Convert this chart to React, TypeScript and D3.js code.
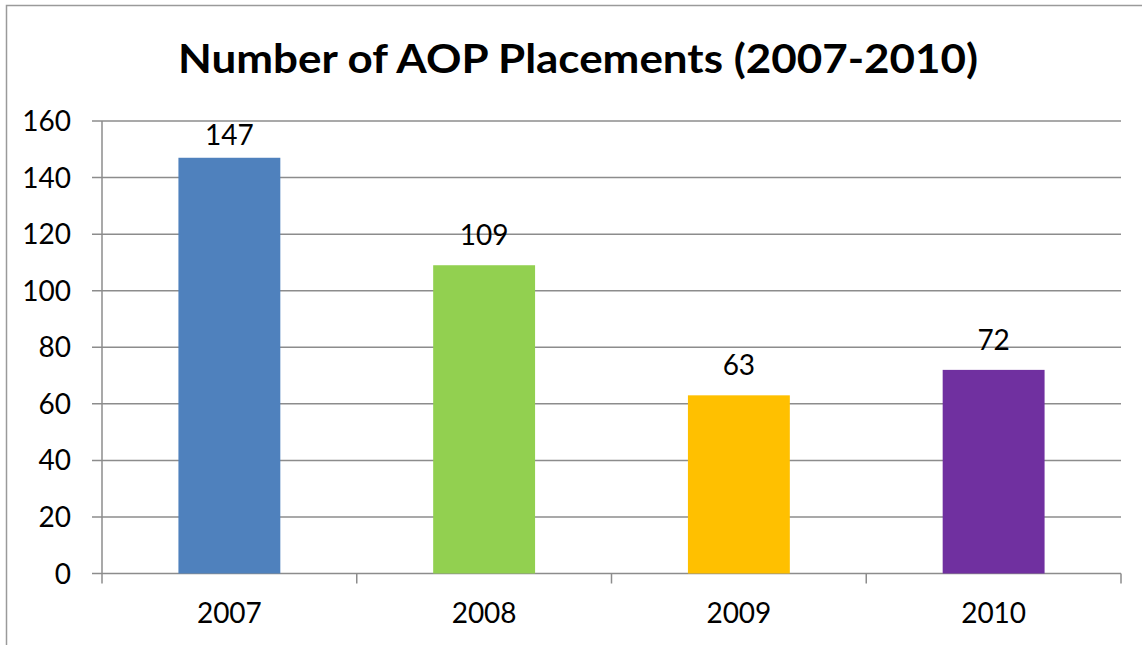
import * as d3 from 'd3';
import { useEffect, useRef } from 'react';

// chart data
const years = ['2007', '2008', '2009', '2010'];
const placements = [147, 109, 63, 72];
const barColors = ['#4F81BD', '#92D050', '#FFC000', '#7030A0'];
const yTicks = [0, 20, 40, 60, 80, 100, 120, 140, 160];
const chartTitle = 'Number of AOP Placements (2007-2010)';

export default function App() {
  const svgCur = useRef<SVGSVGElement | null>(null);

  useEffect(() => {
    if (!svgCur.current) return;
    const width = 1142;
    const height = 645;
    const margin = { top: 121, right: 21, bottom: 71, left: 102 };
    const font = 'Lato, "Open Sans", sans-serif';
    const fontSize = 28;

    const svg = d3.select(svgCur.current).attr('width', width).attr('height', height);
    svg.selectAll('*').remove();

    svg.append('rect').attr('width', width).attr('height', height).attr('fill', '#fff');

    // outer chart border
    svg.append('rect')
      .attr('x', 6.5).attr('y', 5.5)
      .attr('width', width + 20).attr('height', height + 20)
      .attr('fill', 'none').attr('stroke', '#9a9a9a').attr('stroke-width', 1.5);

    const x = d3.scaleBand().domain(years).range([margin.left, width - margin.right]).paddingInner(0).paddingOuter(0);
    const y = d3.scaleLinear().domain([0, 160]).range([height - margin.bottom - 0.5, margin.top]);

    // gridlines + y ticks
    svg.append('g').selectAll('line')
      .data(yTicks)
      .join('line')
      .attr('x1', margin.left - 10)
      .attr('x2', width - margin.right)
      .attr('y1', (d) => y(d))
      .attr('y2', (d) => y(d))
      .attr('stroke', '#8c8c8c')
      .attr('stroke-width', 1.5);

    svg.append('g').selectAll('text')
      .data(yTicks)
      .join('text')
      .attr('x', margin.left - 31)
      .attr('y', (d) => y(d) + 10)
      .attr('text-anchor', 'end')
      .attr('font-family', font)
      .attr('font-size', fontSize)
      .attr('fill', '#000')
      .text((d) => d);

    // y axis line
    svg.append('line')
      .attr('x1', margin.left).attr('x2', margin.left)
      .attr('y1', y(160)).attr('y2', y(0) + 10)
      .attr('stroke', '#8c8c8c').attr('stroke-width', 1.5);

    // x category ticks
    const bounds = years.map((d) => (x(d) as number) + x.bandwidth());
    svg.append('g').selectAll('line')
      .data(bounds)
      .join('line')
      .attr('x1', (d) => d).attr('x2', (d) => d)
      .attr('y1', y(0)).attr('y2', y(0) + 10)
      .attr('stroke', '#8c8c8c').attr('stroke-width', 1.5);

    // bars
    const barW = x.bandwidth() * 0.4;
    svg.append('g').selectAll('rect')
      .data(placements)
      .join('rect')
      .attr('x', (d, i) => (x(years[i]) as number) + (x.bandwidth() - barW) / 2)
      .attr('y', (d) => y(d))
      .attr('width', barW)
      .attr('height', (d) => y(0) - y(d))
      .attr('fill', (d, i) => barColors[i]);

    // value labels (kept inside the plot area at the top)
    svg.append('g').selectAll('text')
      .data(placements)
      .join('text')
      .attr('x', (d, i) => (x(years[i]) as number) + x.bandwidth() / 2)
      .attr('y', (d) => Math.max(y(d) - 20, margin.top + 24))
      .attr('text-anchor', 'middle')
      .attr('font-family', font)
      .attr('font-size', fontSize)
      .text((d) => d);

    // x labels
    svg.append('g').selectAll('text')
      .data(years)
      .join('text')
      .attr('x', (d) => (x(d) as number) + x.bandwidth() / 2)
      .attr('y', y(0) + 49)
      .attr('text-anchor', 'middle')
      .attr('font-family', font)
      .attr('font-size', fontSize)
      .text((d) => d);

    // title
    svg.append('text')
      .attr('x', 578)
      .attr('y', 73)
      .attr('text-anchor', 'middle')
      .attr('font-family', font)
      .attr('font-weight', 'bold')
      .attr('font-size', 40)
      .attr('textLength', 800)
      .attr('lengthAdjust', 'spacingAndGlyphs')
      .text(chartTitle);
  }, []);

  return (
    <div style={{ position: 'absolute', left: 0, top: 0 }}>
      <svg ref={svgCur}></svg>
    </div>
  );
}
